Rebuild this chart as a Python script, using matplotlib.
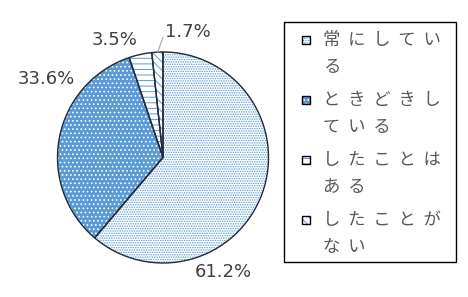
import numpy as np
import matplotlib as mpl
mpl.use('Agg')
import matplotlib.pyplot as plt
from matplotlib.patches import Rectangle

plt.rcParams['font.family'] = ['Noto Sans CJK JP', 'DejaVu Sans']
plt.rcParams['hatch.linewidth'] = 0.7

# data
categories = ['常にしている', 'ときどきしている', 'したことはある', 'したことがない']
legend_lines = [['常にしてい', 'る'], ['ときどきし', 'ている'], ['したことは', 'ある'], ['したことが', 'ない']]
values = [61.2, 33.6, 3.5, 1.7]
pct_labels = ['61.2%', '33.6%', '3.5%', '1.7%']

blue = '#5B9BD5'
faces = ['white', blue, 'white', 'white']
hatch_cols = [blue, 'white', blue, blue]
hatches = ['.......', '....', '---', '\\\\\\\\']
label_pos = [(0.57, -1.085), (-1.11, 0.74), (-0.455, 1.11), (0.24, 1.19)]

W, H = 468, 297
fig = plt.figure(figsize=(W / 100, H / 100), dpi=100)
cx, cy, r = 163, 157.5, 105.5
ax = fig.add_axes([(cx - r) / W, (H - cy - r) / H, 2 * r / W, 2 * r / H])

# hatched fill layer
wedges, _ = ax.pie(values, startangle=90, counterclock=False, radius=1,
                   wedgeprops=dict(linewidth=0))
for w, fc, hc, h in zip(wedges, faces, hatch_cols, hatches):
    w.set_facecolor(fc)
    w.set_edgecolor(hc)
    w.set_hatch(h)
    w.set_linewidth(0)

# outlines
ax.pie(values, startangle=90, counterclock=False, radius=1,
       colors=['none'] * 4, wedgeprops=dict(edgecolor='#1F2A3A', linewidth=1.0, fill=False))
ax.set_xlim(-1, 1)
ax.set_ylim(-1, 1)
ax.axis('off')

for lab, (x, y) in zip(pct_labels, label_pos):
    ax.text(x, y, lab, ha='center', va='center', fontsize=13, color='#404040',
            family=['DejaVu Sans'])

# leader line for 1.7%
ax.plot([-0.05, 0.0], [1.0, 1.14], color='#A6A6A6', lw=0.8, clip_on=False)

# legend
fig.patches.append(Rectangle((284 / W, 1 - 262 / H), 172 / W, 240 / H,
                             transform=fig.transFigure, fill=False,
                             edgecolor='black', lw=1.0))
for i, lines in enumerate(legend_lines):
    y0 = 40 + i * 60
    fig.patches.append(Rectangle((302 / W, 1 - (y0 + 4) / H), 8 / W, 8 / H,
                                 transform=fig.transFigure, facecolor=faces[i],
                                 edgecolor=hatch_cols[i], hatch=hatches[i], lw=0))
    fig.patches.append(Rectangle((302 / W, 1 - (y0 + 4) / H), 8 / W, 8 / H,
                                 transform=fig.transFigure, fill=False,
                                 edgecolor='black', lw=1.0))
    for j, line in enumerate(lines):
        fig.text(323 / W, 1 - (y0 + j * 27) / H, '  '.join(line), ha='left', va='center',
                 fontsize=12.5, color='#595959')

fig.savefig('out.png', dpi=100)
